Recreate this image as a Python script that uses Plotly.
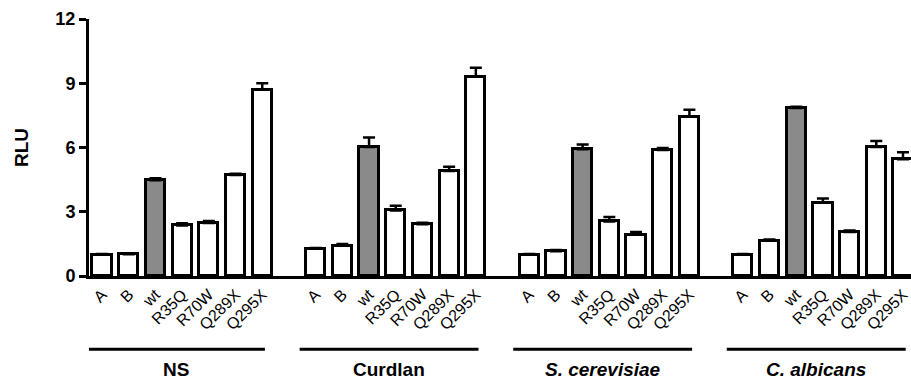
import plotly.graph_objects as go

groups = ["NS", "Curdlan", "S. cerevisiae", "C. albicans"]
group_labels = ["<b>NS</b>", "<b>Curdlan</b>", "<b><i>S. cerevisiae</i></b>", "<b><i>C. albicans</i></b>"]
variants = ["A", "B", "wt", "R35Q", "R70W", "Q289X", "Q295X"]

values = {
    "NS":            [1.0, 1.02, 4.47, 2.36, 2.47, 4.72, 8.70],
    "Curdlan":       [1.28, 1.42, 6.02, 3.06, 2.42, 4.90, 9.30],
    "S. cerevisiae": [1.0, 1.16, 5.92, 2.55, 1.93, 5.88, 7.43],
    "C. albicans":   [1.0, 1.65, 7.85, 3.42, 2.06, 6.02, 5.45],
}
errors = {
    "NS":            [0.03, 0.03, 0.10, 0.10, 0.10, 0.06, 0.30],
    "Curdlan":       [0.03, 0.07, 0.45, 0.22, 0.07, 0.20, 0.42],
    "S. cerevisiae": [0.03, 0.05, 0.22, 0.20, 0.12, 0.10, 0.33],
    "C. albicans":   [0.03, 0.06, 0.05, 0.20, 0.07, 0.28, 0.33],
}
y_ticks = [0, 3, 6, 9, 12]

slot = len(variants) + 1
xs, ys, es, colors, tickvals, ticktext = [], [], [], [], [], []
for gi, g in enumerate(groups):
    for vi, v in enumerate(variants):
        x = gi * slot + vi
        xs.append(x)
        ys.append(values[g][vi])
        es.append(errors[g][vi])
        colors.append("#8a8a8a" if v == "wt" else "white")
        tickvals.append(x)
        ticktext.append(v)

fig = go.Figure()
fig.add_trace(go.Bar(
    x=xs, y=ys, width=0.72,
    marker=dict(color=colors, line=dict(color="black", width=3)),
    error_y=dict(type="data", array=es, arrayminus=[0] * len(es), symmetric=False,
                 color="black", thickness=2.5, width=6),
    showlegend=False,
))

shapes, annotations = [], []
for gi, g in enumerate(groups):
    x0 = gi * slot - 0.6
    x1 = gi * slot + 6.1
    shapes.append(dict(type="line", xref="x", yref="paper", x0=x0, x1=x1,
                       y0=-0.285, y1=-0.285, line=dict(color="black", width=3)))
    annotations.append(dict(x=(x0 + x1) / 2, y=-0.365, xref="x", yref="paper",
                            text=group_labels[gi], showarrow=False,
                            font=dict(size=19, color="black"), yanchor="middle"))

fig.update_layout(
    width=911, height=380,
    margin=dict(l=89, r=0, t=19, b=104),
    plot_bgcolor="white", paper_bgcolor="white",
    font=dict(family="Arial, Liberation Sans, sans-serif", color="black"),
    shapes=shapes, annotations=annotations,
    bargap=0,
)
fig.update_xaxes(
    range=[-0.49, 30.3], tickvals=tickvals, ticktext=ticktext, tickangle=-45,
    tickfont=dict(size=16), showline=True, linecolor="black", linewidth=3,
    ticks="", showgrid=False, zeroline=False,
)
fig.update_yaxes(
    range=[0, 12], tickvals=y_ticks, ticktext=[f"<b>{t}</b>" for t in y_ticks],
    tickfont=dict(size=18), showline=True, linecolor="black", linewidth=3,
    ticks="outside", ticklen=7, tickwidth=3, tickcolor="black",
    showgrid=False, zeroline=False,
    title=dict(text="<b>RLU</b>", font=dict(size=19), standoff=22),
)

fig.write_html("out.html")
